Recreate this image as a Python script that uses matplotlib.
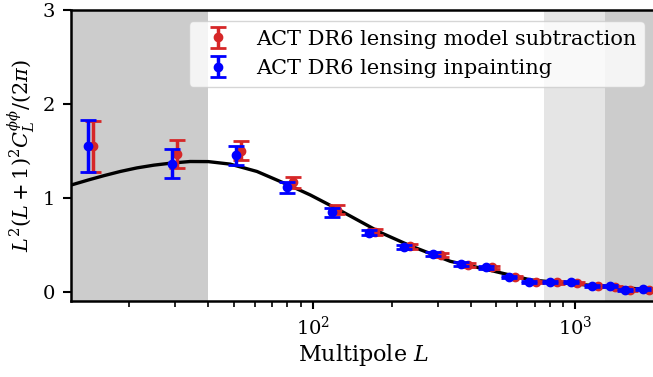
import matplotlib
matplotlib.use("Agg")
import matplotlib.pyplot as plt

plt.rcParams['font.family'] = ['DejaVu Serif']
plt.rcParams['mathtext.fontset'] = 'dejavuserif'

# Theory curve
L_theory = [12.0, 14.0, 16.0, 18.5, 21.4, 24.8, 28.7, 34.1, 40.0, 48.5, 61.3, 82.0, 97.8,
            127, 181, 235, 334, 474, 674, 957, 1359, 1932, 2050]
C_theory = [1.135, 1.19, 1.235, 1.28, 1.318, 1.347, 1.368, 1.386, 1.385, 1.358, 1.28,
            1.128, 1.03, 0.865, 0.63, 0.489, 0.323, 0.227, 0.125, 0.085, 0.05, 0.021, 0.018]

# ACT DR6 lensing model subtraction (red)
L_red = [14.6, 30.5, 53.2, 84, 124, 173, 235, 308, 389, 483, 591, 710, 852, 1013, 1219,
         1420, 1622, 1902]
C_red = [1.546, 1.464, 1.5, 1.163, 0.872, 0.635, 0.482, 0.394, 0.28, 0.259, 0.156, 0.103,
         0.099, 0.092, 0.057, 0.05, 0.014, 0.021]
E_red = [0.275, 0.15, 0.1, 0.06, 0.05, 0.032, 0.027, 0.022, 0.02, 0.018, 0.015, 0.013,
         0.013, 0.013, 0.012, 0.012, 0.011, 0.011]

# ACT DR6 lensing inpainting (blue)
L_blue = [13.9, 29.2, 50.8, 80, 118, 164, 222, 288, 367, 458, 561, 664, 803, 963, 1159,
          1351, 1545, 1811]
C_blue = [1.553, 1.362, 1.454, 1.11, 0.844, 0.628, 0.475, 0.397, 0.294, 0.259, 0.156,
          0.103, 0.106, 0.099, 0.06, 0.057, 0.021, 0.029]
E_blue = [0.28, 0.155, 0.1, 0.06, 0.045, 0.03, 0.025, 0.02, 0.018, 0.016, 0.014, 0.012,
          0.012, 0.012, 0.011, 0.011, 0.01, 0.01]

label_red = "ACT DR6 lensing model subtraction"
label_blue = "ACT DR6 lensing inpainting"

W, H = 653, 377
fig = plt.figure(figsize=(W / 100, H / 100), dpi=100)
ax = fig.add_axes([71 / W, (H - 301) / H, (656 - 71) / W, (301 - 10) / H])

xmin, xmax = 12.0, 2030
ax.axvspan(xmin, 40, color='gray', alpha=0.4, lw=0)
ax.axvspan(763, 1300, color='gray', alpha=0.2, lw=0)
ax.axvspan(1300, xmax, color='gray', alpha=0.4, lw=0)

ax.plot(L_theory, C_theory, color='black', lw=2.4, zorder=3)

ax.errorbar(L_red, C_red, yerr=E_red, fmt='o', color='tab:red', ms=6, elinewidth=2.5,
            capsize=6, capthick=2, label=label_red, zorder=4)
ax.errorbar(L_blue, C_blue, yerr=E_blue, fmt='o', color='blue', ms=6, elinewidth=2.5,
            capsize=6, capthick=2, label=label_blue, zorder=5)

ax.set_xscale('log')
ax.set_xlim(xmin, xmax)
ax.set_ylim(-0.1, 3)
ax.set_yticks([0, 1, 2, 3])

for s in ['left', 'bottom', 'top', 'right']:
    ax.spines[s].set_linewidth(1.8)
ax.tick_params(which='major', length=5.5, width=1.5, labelsize=14)
ax.tick_params(axis='y', which='major', pad=6)
ax.tick_params(axis='x', which='major', pad=5)
ax.tick_params(which='minor', length=4, width=1.2)

ax.set_xlabel(r'Multipole $L$', fontsize=16, labelpad=2)
ax.set_ylabel(r'$L^2(L+1)^2C_L^{\phi\phi}/(2\pi)$', fontsize=15)

ax.legend(loc='upper right', fontsize=15, borderaxespad=0.55)

fig.savefig('out.png', dpi=100)
